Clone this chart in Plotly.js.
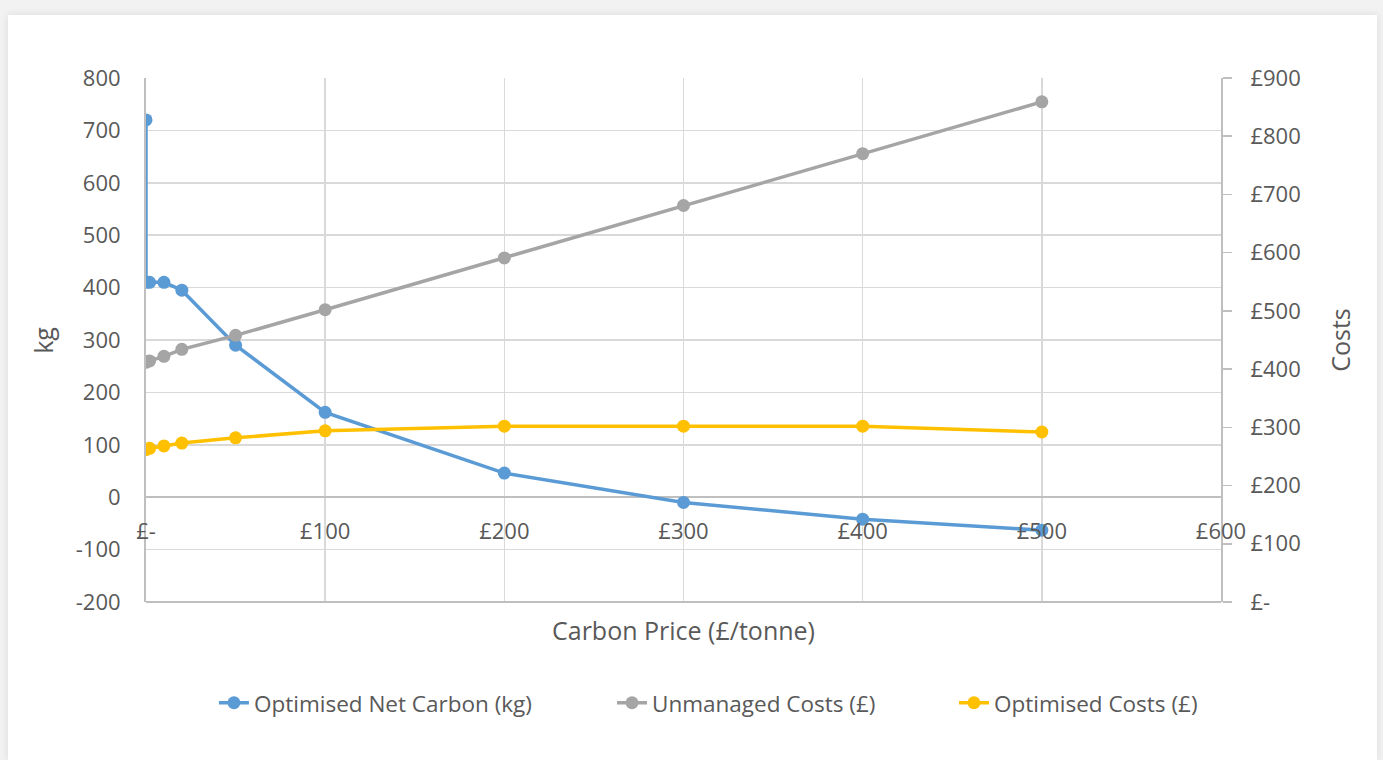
<!DOCTYPE html>
<html>
<head>
<meta charset="utf-8">
<script src="https://cdn.plot.ly/plotly-3.0.1.min.js"></script>
<style>
  html, body { margin: 0; padding: 0; background: #f2f2f2; width: 1383px; height: 760px; overflow: hidden; }
  #wrap { position: absolute; left: 8px; top: 15px; width: 1369px; height: 745px; background: #ffffff; box-shadow: 0 0 8px rgba(0,0,0,0.10); }
  #chart { width: 1369px; height: 745px; }
</style>
</head>
<body>
<div id="wrap"><div id="chart"></div></div>
<script>
// Carbon price (£/tonne)
const carbonPrice = [0, 0, 2, 10, 20, 50, 100, 200, 300, 400, 500];
// Optimised Net Carbon (kg) - left axis
const netCarbon = [720, 410, 410, 410, 395, 290, 162, 46, -10, -42, -63];
// Unmanaged Costs (£) - right axis
const unmanagedCosts = [412, 412, 414, 422, 434, 458, 502, 591, 681, 770, 859];
// Optimised Costs (£) - right axis
const optimisedCosts = [262, 262, 264, 268, 273, 282, 294, 302, 302, 302, 292];

const xTickVals = [0, 100, 200, 300, 400, 500, 600];
const xTickText = ['£-', '£100', '£200', '£300', '£400', '£500', '£600'];
const y1TickVals = [-200, -100, 0, 100, 200, 300, 400, 500, 600, 700, 800];
const y1TickText = ['-200', '-100', '0', '100', '200', '300', '400', '500', '600', '700', '800'];
const y2TickVals = [0, 100, 200, 300, 400, 500, 600, 700, 800, 900];
const y2TickText = ['£-', '£100', '£200', '£300', '£400', '£500', '£600', '£700', '£800', '£900'];

const FONT = '"Open Sans", "Noto Sans", sans-serif';
const TXT = '#595959';

const traces = [
  { x: carbonPrice, y: netCarbon, name: 'Optimised Net Carbon (kg)', type: 'scatter', mode: 'lines+markers',
    line: { color: '#5b9bd5', width: 3.5 }, marker: { color: '#5b9bd5', size: 13 }, yaxis: 'y', legend: 'legend' },
  { x: carbonPrice, y: unmanagedCosts, name: 'Unmanaged Costs (£)', type: 'scatter', mode: 'lines+markers',
    line: { color: '#a5a5a5', width: 3.5 }, marker: { color: '#a5a5a5', size: 13 }, yaxis: 'y2', legend: 'legend2' },
  { x: carbonPrice, y: optimisedCosts, name: 'Optimised Costs (£)', type: 'scatter', mode: 'lines+markers',
    line: { color: '#ffc000', width: 3.5 }, marker: { color: '#ffc000', size: 13 }, yaxis: 'y2', legend: 'legend3' }
];

const legendBase = { orientation: 'h', y: -0.193, yanchor: 'middle', xanchor: 'left',
  bgcolor: 'rgba(0,0,0,0)', font: { family: FONT, size: 22.5, color: TXT } };

const layout = {
  width: 1369, height: 745,
  margin: { l: 138, r: 156, t: 63, b: 158 },
  paper_bgcolor: '#ffffff', plot_bgcolor: '#ffffff',
  font: { family: FONT, color: TXT, size: 22 },
  showlegend: true,
  legend: Object.assign({}, legendBase, { x: 0.0632 }),
  legend2: Object.assign({}, legendBase, { x: 0.4335 }),
  legend3: Object.assign({}, legendBase, { x: 0.7516 }),
  xaxis: {
    range: [0, 600], tickvals: xTickVals, ticktext: xTickText,
    showgrid: true, gridcolor: '#d9d9d9', gridwidth: 1.5,
    showline: false, zeroline: false, ticks: '',
    anchor: 'free', position: 0.2004, side: 'bottom', ticklabelstandoff: 19,
    tickfont: { family: FONT, size: 22, color: TXT }
  },
  yaxis: {
    range: [-200, 800], tickvals: y1TickVals, ticktext: y1TickText,
    showgrid: true, gridcolor: '#d9d9d9', gridwidth: 1.5,
    zeroline: true, zerolinecolor: '#bfbfbf', zerolinewidth: 1.5,
    showline: true, linecolor: '#bfbfbf', linewidth: 2, ticks: '',
    ticklabelstandoff: 19, tickfont: { family: FONT, size: 22, color: TXT }
  },
  yaxis2: {
    range: [0, 900], tickvals: y2TickVals, ticktext: y2TickText,
    overlaying: 'y', side: 'right', anchor: 'x',
    showgrid: false, zeroline: false,
    showline: true, linecolor: '#bfbfbf', linewidth: 2,
    ticks: 'outside', ticklen: 9, tickcolor: '#bfbfbf', tickwidth: 1.5,
    ticklabelstandoff: 14, tickfont: { family: FONT, size: 22, color: TXT }
  },
  shapes: [
    { type: 'line', xref: 'paper', yref: 'paper', x0: 0, x1: 1, y0: 0, y1: 0,
      line: { color: '#bfbfbf', width: 2 } }
  ],
  annotations: [
    { text: 'Carbon Price (£/tonne)', xref: 'paper', yref: 'paper', x: 0.5, y: -0.053, yanchor: 'middle',
      showarrow: false, font: { family: FONT, size: 25, color: TXT } },
    { text: 'kg', xref: 'paper', yref: 'paper', x: -0.096, xanchor: 'center', y: 0.5, yanchor: 'middle',
      textangle: -90, showarrow: false, font: { family: FONT, size: 25, color: TXT } },
    { text: 'Costs', xref: 'paper', yref: 'paper', x: 1.1105, xanchor: 'center', y: 0.5, yanchor: 'middle',
      textangle: -90, showarrow: false, font: { family: FONT, size: 25, color: TXT } }
  ]
};

Plotly.newPlot('chart', traces, layout, { displayModeBar: false, staticPlot: true });
</script>
</body>
</html>
